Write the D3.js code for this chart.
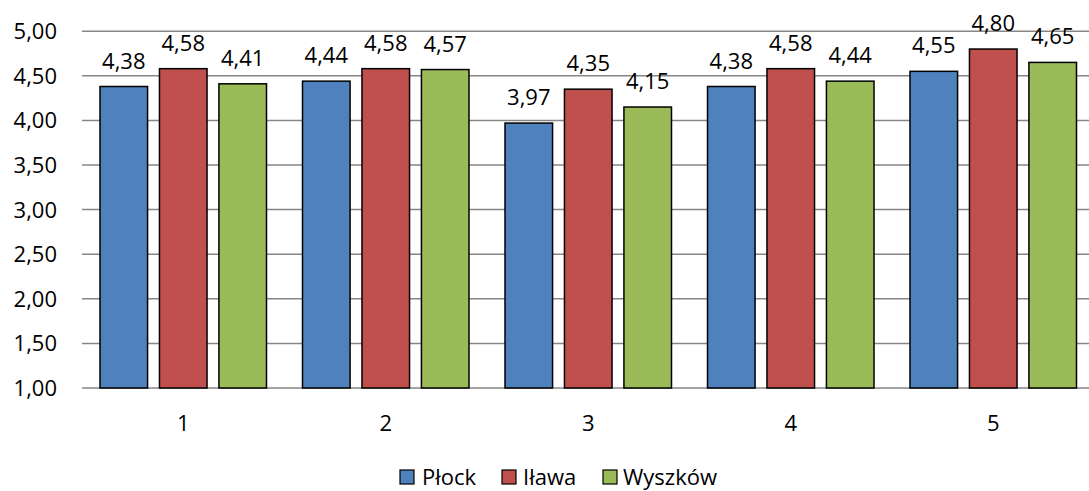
<!DOCTYPE html>
<html><head><meta charset="utf-8">
<script src="https://cdn.jsdelivr.net/npm/d3@7"></script>
<style>body{margin:0;background:#fff}svg{display:block}text{font-family:"Open Sans",sans-serif;fill:#000}</style>
</head><body>
<svg id="c" width="1089" height="491"></svg>
<script>
const categories = ["1","2","3","4","5"];
const seriesNames = ["Płock","Iława","Wyszków"];
const plock = [4.38,4.44,3.97,4.38,4.55];
const ilawa = [4.58,4.58,4.35,4.58,4.80];
const wyszkow = [4.41,4.57,4.15,4.44,4.65];
const yTicks = [1,1.5,2,2.5,3,3.5,4,4.5,5];
const colors = ["#4F81BD","#C0504D","#9BBB59"];
const series = [plock, ilawa, wyszkow];

const svg = d3.select("#c");
const fs = 22;
const x0 = d3.scaleBand().domain(categories).range([82,1094.5]).paddingInner(0).paddingOuter(0);
const x1 = d3.scaleBand().domain(seriesNames).range([18, x0.bandwidth()-18]).paddingInner(0.2).paddingOuter(0);
const y = d3.scaleLinear().domain([1,5]).range([388,31.2]);
const fmt = v => d3.format(".2f")(v).replace(".",",");

// gridlines
svg.append("g").selectAll("line").data(yTicks).join("line")
  .attr("x1",82).attr("x2",1095).attr("y1",d=>y(d)).attr("y2",d=>y(d))
  .attr("stroke","#868686").attr("stroke-width",1.5);

// y labels
svg.append("g").selectAll("text").data(yTicks).join("text")
  .attr("x",57).attr("y",d=>y(d)).attr("dy","0.36em").attr("text-anchor","end")
  .attr("font-size",fs).text(d=>fmt(d));

// bars
const g = svg.append("g");
categories.forEach((c,i)=>{
  seriesNames.forEach((s,j)=>{
    const v = series[j][i];
    const bx = x0(c)+x1(s);
    g.append("rect").attr("x",bx).attr("y",y(v)).attr("width",x1.bandwidth()).attr("height",y(1)-y(v))
      .attr("fill",colors[j]).attr("stroke","#000").attr("stroke-width",1.5);
    g.append("text").attr("x",bx+x1.bandwidth()/2).attr("y",y(v)-18).attr("text-anchor","middle")
      .attr("font-size",fs).text(fmt(v));
  });
});

// x labels
svg.append("g").selectAll("text").data(categories).join("text")
  .attr("x",d=>x0(d)+x0.bandwidth()/2).attr("y",431).attr("text-anchor","middle")
  .attr("font-size",fs).text(d=>d);

// legend
const legSq = [400,502,603];
const legTx = [422,523,623];
const lg = svg.append("g");
seriesNames.forEach((s,j)=>{
  lg.append("rect").attr("x",legSq[j]).attr("y",470).attr("width",14).attr("height",14)
    .attr("fill",colors[j]).attr("stroke","#000").attr("stroke-width",1.2);
  lg.append("text").attr("x",legTx[j]).attr("y",477).attr("dy","0.36em").attr("font-size",fs).text(s);
});
</script>
</body></html>
